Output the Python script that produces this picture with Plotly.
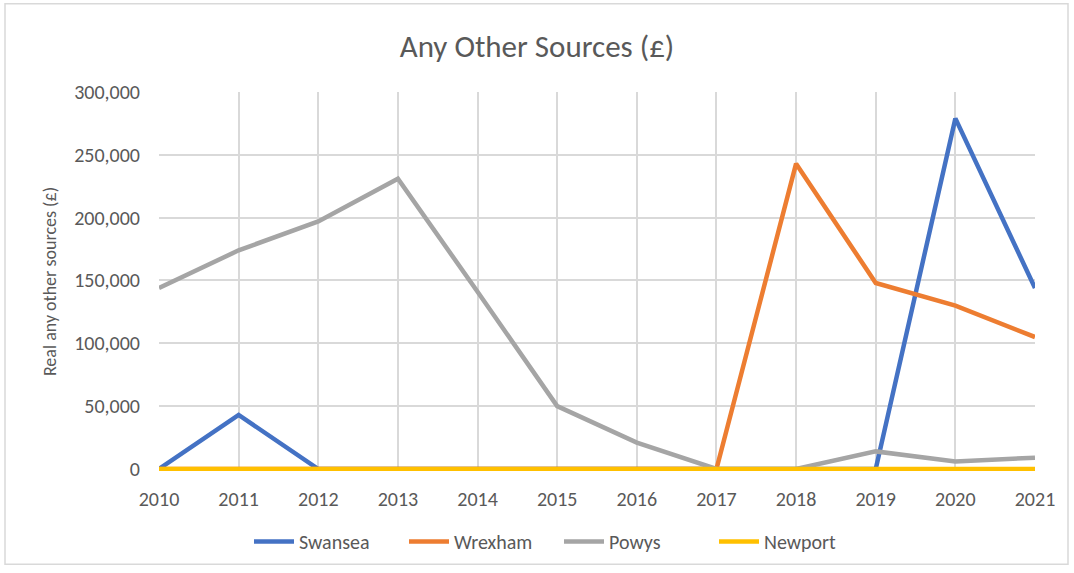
import plotly.graph_objects as go

years = [2010, 2011, 2012, 2013, 2014, 2015, 2016, 2017, 2018, 2019, 2020, 2021]
swansea = [0, 43000, 0, 0, 0, 0, 0, 0, 0, 0, 279000, 144000]
wrexham = [0, 0, 0, 0, 0, 0, 0, 0, 243000, 148000, 130000, 105000]
powys = [144000, 174000, 197000, 231000, 141000, 50000, 21000, 0, 0, 14000, 6000, 9000]
newport = [0, 0, 0, 0, 0, 0, 0, 0, 0, 0, 0, 0]

series = [
    ("Swansea", swansea, "#4472C4"),
    ("Wrexham", wrexham, "#ED7D31"),
    ("Powys", powys, "#A5A5A5"),
    ("Newport", newport, "#FFC000"),
]

fig = go.Figure()
for name, vals, col in series:
    fig.add_trace(go.Scatter(x=years, y=vals, name=name, mode="lines",
                             line=dict(color=col, width=4.5)))

font = "Calibri, Carlito, Lato, sans-serif"
W, H = 1074, 573
L, R, T, B = 159, 39, 92, 99
PW, PH = W - L - R, H - T - B
pb = H - B  # plot bottom in page pixels

def px(x):
    return (x - L) / PW

def py(y):
    return (pb - y) / PH

fig.update_layout(
    width=W, height=H,
    margin=dict(l=L, r=R, t=T, b=B),
    paper_bgcolor="white", plot_bgcolor="white",
    font=dict(family=font, color="#595959", size=20),
    title=dict(text="Any Other Sources (£)", x=0.5, xanchor="center",
               y=1 - 46 / H, yanchor="middle",
               font=dict(size=31, color="#595959", family=font)),
    xaxis=dict(range=[2010, 2021], tickmode="array", tickvals=years,
               ticktext=[str(y) for y in years],
               showgrid=True, gridcolor="#D9D9D9", gridwidth=2,
               zeroline=False, showline=False, ticks="",
               ticklabelstandoff=14,
               tickfont=dict(size=20, color="#595959")),
    yaxis=dict(range=[-1600, 300000], tickmode="array",
               tickvals=[0, 50000, 100000, 150000, 200000, 250000, 300000],
               tickformat=",", showgrid=True, gridcolor="#D9D9D9", gridwidth=2,
               zeroline=False, showline=False, ticks="",
               ticklabelstandoff=18,
               title=dict(text="Real any other sources (£)", standoff=12,
                          font=dict(size=18, color="#595959")),
               tickfont=dict(size=20, color="#595959")),
    legend=dict(orientation="h", x=px(559), xanchor="center",
                y=py(545), yanchor="middle",
                font=dict(size=20, color="#595959"),
                itemwidth=40, entrywidth=100, traceorder="normal"),
    showlegend=True,
    shapes=[dict(type="rect", xref="paper", yref="paper",
                 x0=px(5), x1=px(1068), y0=py(568), y1=py(3),
                 line=dict(color="#D9D9D9", width=1.5), layer="below")],
)

fig.write_html("out.html", config={"displayModeBar": False},
               post_script="document.body.style.margin='0';document.body.style.overflow='hidden';")
